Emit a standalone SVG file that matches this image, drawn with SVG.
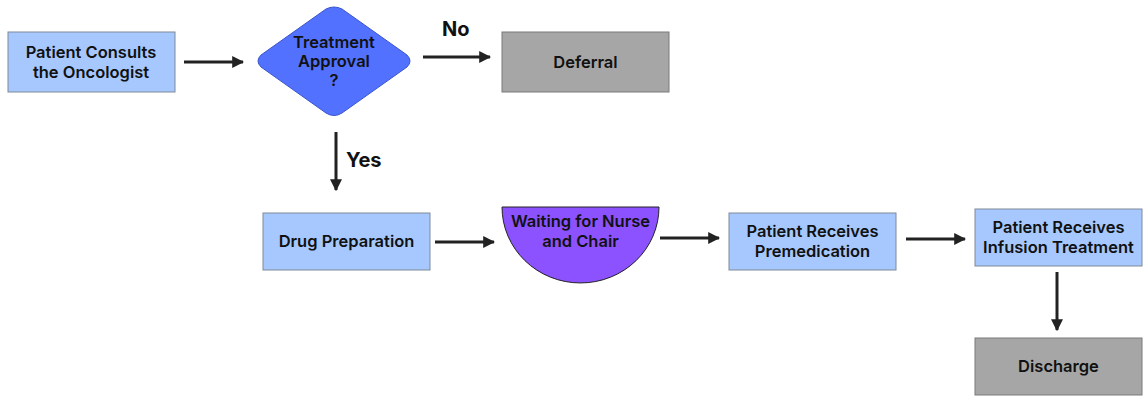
<svg xmlns="http://www.w3.org/2000/svg" width="1143" height="397" viewBox="0 0 1143 397">
<style>
.box{fill:#a6c8ff;stroke:#7f8a99;stroke-width:1}
.gray{fill:#a6a6a6;stroke:#7a7a7a;stroke-width:1}
.t{font-family:Inter,"Open Sans",sans-serif;font-weight:600;font-size:16.5px;fill:#111;text-anchor:middle}
.lbl{font-family:Inter,"Open Sans",sans-serif;font-weight:700;font-size:20px;fill:#111}
.c{stroke:#222;stroke-width:3;fill:none;marker-end:url(#ah)}
</style>
<defs>
<marker id="ah" viewBox="0 0 10 10" refX="9" refY="5" markerWidth="4" markerHeight="4" orient="auto" markerUnits="strokeWidth">
<path d="M0,0 L10,5 L0,10 z" fill="#222"/>
</marker>
</defs>
<rect width="1143" height="397" fill="#fff"/>
<g id="connectors">
<line class="c" x1="184" y1="62" x2="243" y2="62"/>
<line class="c" x1="423" y1="57" x2="490" y2="57"/>
<line class="c" x1="336" y1="132" x2="336" y2="190"/>
<line class="c" x1="435" y1="242" x2="494" y2="242"/>
<line class="c" x1="660" y1="238" x2="719" y2="238"/>
<line class="c" x1="906" y1="239" x2="965" y2="239"/>
<line class="c" x1="1057" y1="272" x2="1057" y2="330"/>
<text class="lbl" x="442" y="36">No</text>
<text class="lbl" x="346" y="167">Yes</text>
</g>
<g id="consult">
<rect class="box" x="8" y="32" width="167" height="60"/>
<text class="t" x="91" y="58">Patient Consults</text>
<text class="t" x="91" y="78">the Oncologist</text>
</g>
<g id="approval">
<path d="M326,9 Q334,5 342,9 L407,55 Q413,61 407,67 L342,113 Q334,118 326,113 L261,67 Q255,61 261,55 Z" fill="#5271ff" stroke="#3b55cc" stroke-width="1"/>
<text class="t" x="334" y="48">Treatment</text>
<text class="t" x="334" y="67">Approval</text>
<text class="t" x="334" y="86">?</text>
</g>
<g id="deferral">
<rect class="gray" x="502" y="32" width="167" height="60"/>
<text class="t" x="585.5" y="68">Deferral</text>
</g>
<g id="drug">
<rect class="box" x="263" y="213" width="167" height="57"/>
<text class="t" x="346.5" y="247">Drug Preparation</text>
</g>
<g id="waiting">
<path d="M502,207 L659,207 A78.5,76 0 0 1 502,207 Z" fill="#8c52ff" stroke="#222" stroke-width="1"/>
<text class="t" x="580.5" y="227">Waiting for Nurse</text>
<text class="t" x="580.5" y="247">and Chair</text>
</g>
<g id="premed">
<rect class="box" x="729" y="213" width="167" height="57"/>
<text class="t" x="812.5" y="237">Patient Receives</text>
<text class="t" x="812.5" y="257">Premedication</text>
</g>
<g id="infusion">
<rect class="box" x="975" y="209" width="167" height="57"/>
<text class="t" x="1058.5" y="233">Patient Receives</text>
<text class="t" x="1058.5" y="253">Infusion Treatment</text>
</g>
<g id="discharge">
<rect class="gray" x="975" y="338" width="167" height="57"/>
<text class="t" x="1058.5" y="372">Discharge</text>
</g>
</svg>
